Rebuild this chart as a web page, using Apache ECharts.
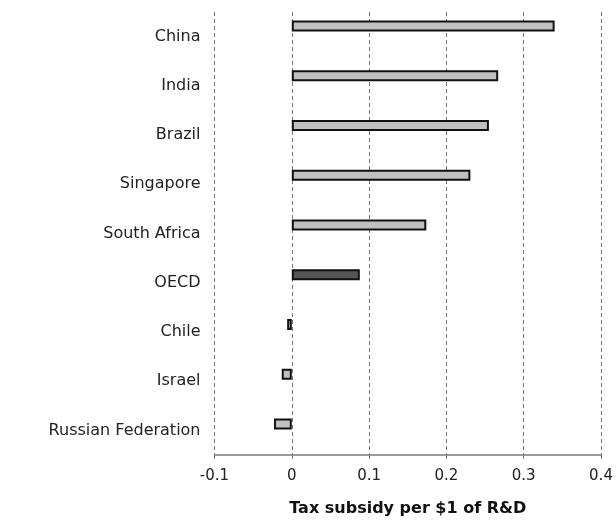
<!DOCTYPE html>
<html><head><meta charset="utf-8">
<script src="https://cdn.jsdelivr.net/npm/echarts@6/dist/echarts.min.js"></script>
<style>html,body{margin:0;padding:0;background:#fff}#c{width:616px;height:522px}</style>
</head><body><div id="c"></div>
<script>
const categories = ["China","India","Brazil","Singapore","South Africa","OECD","Chile","Israel","Russian Federation"];
const values = [0.340, 0.267, 0.255, 0.231, 0.174, 0.088, -0.006, -0.013, -0.023];
const highlight = "OECD";
const xTicks = [-0.1, 0, 0.1, 0.2, 0.3, 0.4];
const xTitle = "Tax subsidy per $1 of R&D";

const font = "DejaVu Sans";
const chart = echarts.init(document.getElementById('c'), null, {renderer:'canvas'});
const L = 214.5, R = 15;
chart.setOption({
  animation:false,
  backgroundColor:'#fff',
  grid:[
    {left:L, right:R, top:1, height:448},
    {left:L, right:R, top:12, height:447}
  ],
  xAxis:[
    {gridIndex:0, type:'value', min:-0.1, max:0.4, interval:0.1, show:false},
    {gridIndex:1, type:'value', min:xTicks[0], max:xTicks[xTicks.length-1], interval:0.1,
     axisLine:{show:true, onZero:false, lineStyle:{color:'#7a7a7a', width:1.5}},
     axisTick:{show:true, length:4, lineStyle:{color:'#7a7a7a'}},
     splitLine:{show:true, lineStyle:{color:'#7a7a7a', type:[4,3], width:1}},
     axisLabel:{color:'#222', fontFamily:font, fontSize:15, margin:14,
       formatter:v=>{const r=Math.round(v*10)/10; return r===0?'0':String(r);}},
     name:xTitle, nameLocation:'middle', nameGap:46,
     nameTextStyle:{color:'#111', fontFamily:font, fontWeight:'bold', fontSize:16}}
  ],
  yAxis:[
    {gridIndex:0, type:'category', data:categories, inverse:true, show:false},
    {gridIndex:1, type:'category', data:categories, inverse:true,
     axisLine:{show:false}, axisTick:{show:false}, splitLine:{show:false},
     axisLabel:{color:'#222', fontFamily:font, fontSize:16, margin:14}}
  ],
  series:[{
    type:'bar', xAxisIndex:0, yAxisIndex:0, barWidth:11,
    data: values.map((v,i)=>({value:v, itemStyle:{color: categories[i]===highlight?'#555555':'#c0c0c0'}})),
    itemStyle:{borderColor:'#111', borderWidth:2},
    z:5
  }]
});
</script></body></html>
